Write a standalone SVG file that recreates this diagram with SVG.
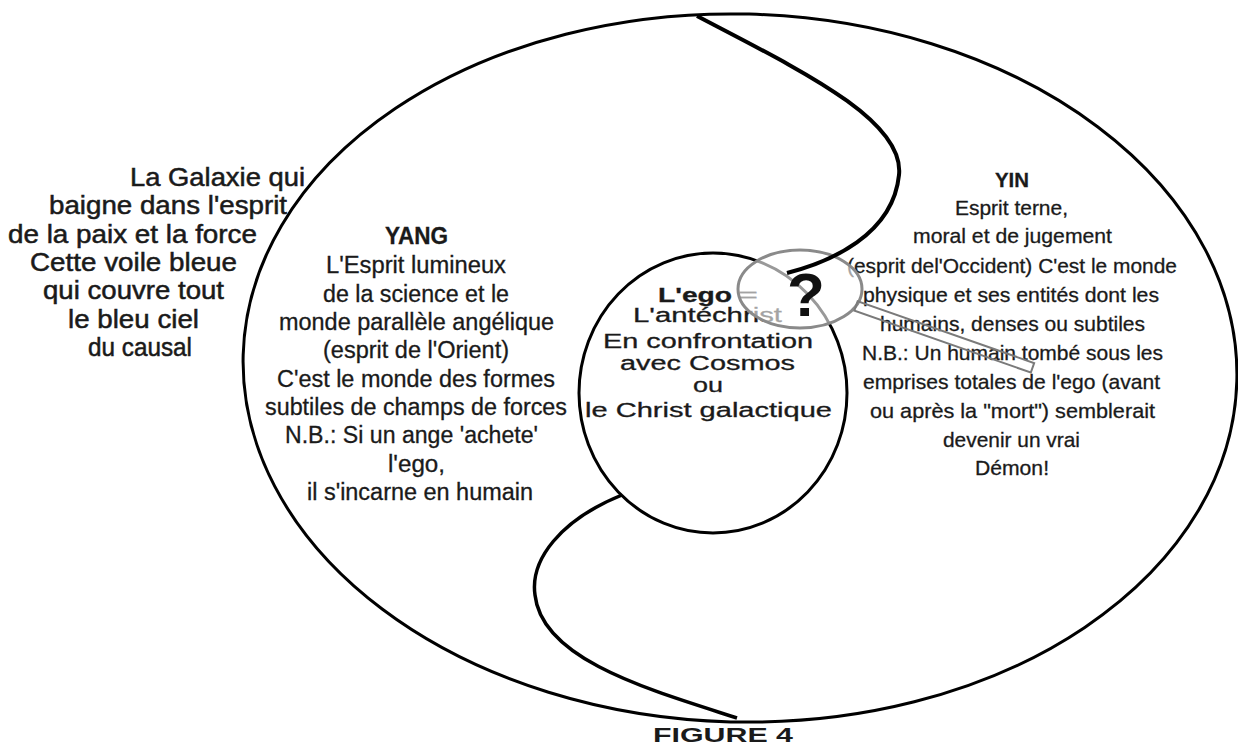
<svg xmlns="http://www.w3.org/2000/svg" width="1238" height="744" viewBox="0 0 1238 744">
<style>
text{font-family:"Liberation Sans",Arial,sans-serif;fill:#1a1a1a}
.l{font-size:25px;stroke:#1a1a1a;stroke-width:0.5}
.y{font-size:23px;stroke:#1a1a1a;stroke-width:0.3}
.n{font-size:21px;stroke:#1a1a1a;stroke-width:0.3}
.e{font-size:20px;stroke:#1a1a1a;stroke-width:0.3}
.b{font-weight:bold}
.ln{fill:none;stroke:#000}
</style>
<rect width="1238" height="744" fill="#fff"/>
<g id="outer">
<ellipse class="ln" cx="740" cy="368" rx="497" ry="354" stroke-width="3" transform="rotate(1.5 740 368)"/>
</g>
<g id="galaxy" class="l">
<text x="130" y="186" textLength="175" lengthAdjust="spacingAndGlyphs">La Galaxie qui</text>
<text x="49" y="214" textLength="238" lengthAdjust="spacingAndGlyphs">baigne dans l'esprit</text>
<text x="8" y="243" textLength="249" lengthAdjust="spacingAndGlyphs">de la paix et la force</text>
<text x="30" y="271" textLength="207" lengthAdjust="spacingAndGlyphs">Cette voile bleue</text>
<text x="43" y="299" textLength="181" lengthAdjust="spacingAndGlyphs">qui couvre tout</text>
<text x="68" y="328" textLength="131" lengthAdjust="spacingAndGlyphs">le bleu ciel</text>
<text x="88" y="356" textLength="104" lengthAdjust="spacingAndGlyphs">du causal</text>
</g>
<g id="yang" class="y">
<text class="b" x="385" y="244" textLength="63" lengthAdjust="spacingAndGlyphs">YANG</text>
<text x="326" y="273" textLength="180" lengthAdjust="spacingAndGlyphs">L'Esprit lumineux</text>
<text x="323" y="302" textLength="186" lengthAdjust="spacingAndGlyphs">de la science et le</text>
<text x="279" y="330" textLength="275" lengthAdjust="spacingAndGlyphs">monde parallèle angélique</text>
<text x="323" y="358" textLength="186" lengthAdjust="spacingAndGlyphs">(esprit de l'Orient)</text>
<text x="277" y="387" textLength="278" lengthAdjust="spacingAndGlyphs">C'est le monde des formes</text>
<text x="265" y="415" textLength="302" lengthAdjust="spacingAndGlyphs">subtiles de champs de forces</text>
<text x="285" y="443" textLength="253" lengthAdjust="spacingAndGlyphs">N.B.: Si un ange 'achete'</text>
<text x="388" y="472" textLength="57" lengthAdjust="spacingAndGlyphs">l'ego,</text>
<text x="307" y="500" textLength="226" lengthAdjust="spacingAndGlyphs">il s'incarne en humain</text>
</g>
<g id="yin" class="n">
<text class="b" x="995" y="187" textLength="34" lengthAdjust="spacingAndGlyphs">YIN</text>
<text x="955" y="215" textLength="113" lengthAdjust="spacingAndGlyphs">Esprit terne,</text>
<text x="913" y="243" textLength="199" lengthAdjust="spacingAndGlyphs">moral et de jugement</text>
<text x="847" y="273" textLength="330" lengthAdjust="spacingAndGlyphs">(esprit del'Occident) C'est le monde</text>
<text x="863" y="302" textLength="296" lengthAdjust="spacingAndGlyphs">physique et ses entités dont les</text>
<text x="880" y="331" textLength="265" lengthAdjust="spacingAndGlyphs">humains, denses ou subtiles</text>
<text x="862" y="360" textLength="301" lengthAdjust="spacingAndGlyphs">N.B.: Un humain tombé sous les</text>
<text x="863" y="389" textLength="297" lengthAdjust="spacingAndGlyphs">emprises totales de l'ego (avant</text>
<text x="870" y="418" textLength="285" lengthAdjust="spacingAndGlyphs">ou après la  &quot;mort&quot;) semblerait</text>
<text x="943" y="447" textLength="137" lengthAdjust="spacingAndGlyphs">devenir un vrai</text>
<text x="975" y="475" textLength="74" lengthAdjust="spacingAndGlyphs">Démon!</text>
</g>
<g id="ego">
<ellipse class="ln" cx="713" cy="393" rx="134" ry="140" stroke-width="3"/>
<g class="e">
<text class="b" x="658" y="302" textLength="74" lengthAdjust="spacingAndGlyphs">L'ego</text>
<text x="738" y="302" textLength="20" lengthAdjust="spacingAndGlyphs">=</text>
<text x="633" y="322" textLength="149" lengthAdjust="spacingAndGlyphs">L'antéchrist</text>
<text x="603" y="348" textLength="210" lengthAdjust="spacingAndGlyphs">En confrontation</text>
<text x="620" y="370" textLength="175" lengthAdjust="spacingAndGlyphs">avec Cosmos</text>
<text x="693" y="392" textLength="30" lengthAdjust="spacingAndGlyphs">ou</text>
<text x="585" y="417" textLength="247" lengthAdjust="spacingAndGlyphs">le Christ galactique</text>
</g>
</g>
<g id="lens">
<ellipse cx="800" cy="289" rx="62" ry="39" fill="#fff" fill-opacity="0.6" stroke="#8a8a8a" stroke-width="3"/>
<rect x="0" y="-5" width="187" height="10" fill="none" stroke="#7a7a7a" stroke-width="2" transform="translate(856,306) rotate(19.3)"/>
</g>
<g id="connectors">
<path class="ln" d="M697,16 C800,70 905,120 899,175 C893,235 830,262 787,273" stroke-width="4"/>
<path class="ln" d="M622,495 C560,520 530,560 535,595 C542,660 650,690 737,718" stroke-width="3.5"/>
</g>
<g id="question">
<text class="b" x="806" y="316" font-size="62" text-anchor="middle" style="fill:#111">?</text>
</g>
<g id="caption">
<text class="b" x="653" y="742" font-size="20" textLength="140" lengthAdjust="spacingAndGlyphs">FIGURE 4</text>
</g>
</svg>
